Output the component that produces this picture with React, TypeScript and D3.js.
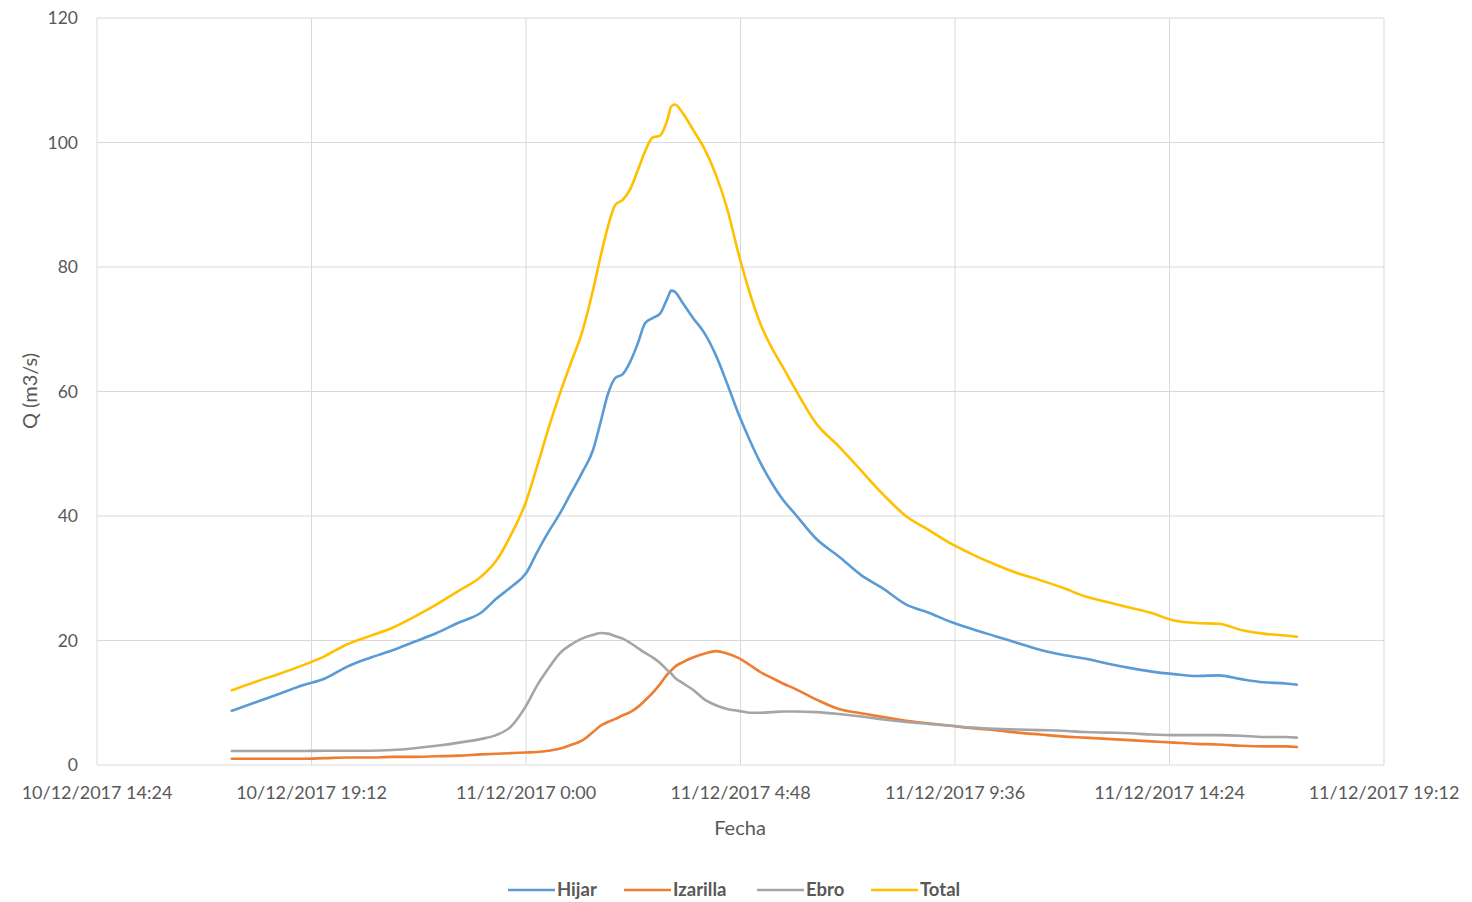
import React from "react";
import * as d3 from "d3";

const times: string[] = [
  "2017-12-10 17:25", "2017-12-10 18:00", "2017-12-10 18:30", "2017-12-10 19:00", "2017-12-10 19:30",
  "2017-12-10 20:00", "2017-12-10 20:30", "2017-12-10 21:00", "2017-12-10 21:30", "2017-12-10 22:00",
  "2017-12-10 22:30", "2017-12-10 23:00", "2017-12-10 23:20", "2017-12-10 23:40", "2017-12-11 00:00",
  "2017-12-11 00:15", "2017-12-11 00:30", "2017-12-11 00:45", "2017-12-11 01:00", "2017-12-11 01:15",
  "2017-12-11 01:30", "2017-12-11 01:40", "2017-12-11 01:50", "2017-12-11 02:00", "2017-12-11 02:10",
  "2017-12-11 02:20", "2017-12-11 02:30", "2017-12-11 02:40", "2017-12-11 02:50", "2017-12-11 03:00",
  "2017-12-11 03:10", "2017-12-11 03:15", "2017-12-11 03:20", "2017-12-11 03:30", "2017-12-11 03:45",
  "2017-12-11 04:00", "2017-12-11 04:15", "2017-12-11 04:30", "2017-12-11 04:45", "2017-12-11 05:00",
  "2017-12-11 05:15", "2017-12-11 05:30", "2017-12-11 05:45", "2017-12-11 06:00", "2017-12-11 06:30",
  "2017-12-11 07:00", "2017-12-11 07:30", "2017-12-11 08:00", "2017-12-11 08:30", "2017-12-11 09:00",
  "2017-12-11 09:30", "2017-12-11 10:00", "2017-12-11 10:30", "2017-12-11 11:00", "2017-12-11 11:30",
  "2017-12-11 12:00", "2017-12-11 12:30", "2017-12-11 13:00", "2017-12-11 13:30", "2017-12-11 14:00",
  "2017-12-11 14:30", "2017-12-11 15:00", "2017-12-11 15:30", "2017-12-11 16:00", "2017-12-11 16:30",
  "2017-12-11 17:00", "2017-12-11 17:15",
];

const hijar: number[] = [
  8.7, 10.2, 11.5, 12.8, 13.9, 15.8, 17.2, 18.4, 19.8, 21.2,
  22.9, 24.5, 26.7, 28.6, 30.8, 34.2, 37.4, 40.3, 43.6, 46.9,
  50.6, 55.0, 59.6, 62.2, 62.8, 64.8, 67.7, 71.0, 71.8, 72.5,
  75.0, 76.2, 76.0, 74.3, 71.7, 69.3, 65.8, 61.3, 56.5, 52.3,
  48.5, 45.3, 42.6, 40.5, 36.3, 33.5, 30.5, 28.3, 25.8, 24.5,
  23.0, 21.8, 20.7, 19.6, 18.5, 17.7, 17.1, 16.3, 15.6, 15.0,
  14.6, 14.3, 14.4, 13.8, 13.3, 13.1, 12.9,
];

const izarilla: number[] = [
  1.0, 1.0, 1.0, 1.0, 1.1, 1.2, 1.2, 1.3, 1.3, 1.4,
  1.5, 1.7, 1.8, 1.9, 2.0, 2.1, 2.3, 2.6, 3.2, 3.9,
  5.3, 6.3, 6.9, 7.4, 8.0, 8.5, 9.3, 10.4, 11.6, 13.0,
  14.6, 15.2, 15.8, 16.5, 17.3, 17.9, 18.3, 17.9, 17.2, 16.1,
  14.9, 14.0, 13.1, 12.3, 10.5, 9.0, 8.3, 7.7, 7.1, 6.7,
  6.3, 5.9, 5.6, 5.2, 4.9, 4.6, 4.4, 4.2, 4.0, 3.8,
  3.6, 3.4, 3.3, 3.1, 3.0, 3.0, 2.9,
];

const ebro: number[] = [
  2.25, 2.25, 2.25, 2.25, 2.3, 2.3, 2.3, 2.4, 2.7, 3.1,
  3.6, 4.2, 4.8, 6.2, 9.5, 12.8, 15.5, 17.9, 19.3, 20.3,
  20.9, 21.2, 21.1, 20.7, 20.3, 19.6, 18.8, 18.0, 17.3, 16.4,
  15.2, 14.7, 14.0, 13.2, 12.0, 10.5, 9.6, 9.0, 8.7, 8.4,
  8.4, 8.5, 8.6, 8.6, 8.5, 8.2, 7.8, 7.3, 6.9, 6.6,
  6.3, 6.0, 5.8, 5.7, 5.6, 5.5, 5.3, 5.2, 5.1, 4.9,
  4.8, 4.8, 4.8, 4.7, 4.5, 4.5, 4.4,
];

const total: number[] = [
  12.0, 13.5, 14.7, 16.0, 17.5, 19.4, 20.7, 22.0, 23.8, 25.8,
  28.0, 30.3, 32.8, 37.0, 42.3, 48.0, 54.0, 59.5, 64.5, 69.4,
  76.3, 81.6, 86.5, 90.0, 90.8, 92.5, 95.5, 98.6, 100.8, 101.1,
  103.7, 105.8, 106.1, 104.8, 101.9, 98.9, 94.8, 89.4, 82.3, 76.0,
  70.8, 67.0, 63.9, 60.7, 54.8, 51.2, 47.3, 43.4, 40.0, 37.8,
  35.6, 33.8, 32.2, 30.8, 29.7, 28.5, 27.1, 26.2, 25.3, 24.4,
  23.2, 22.8, 22.7, 21.7, 21.1, 20.8, 20.6,
];

const xTickLabels: string[] = [
  "2017-12-10 14:24", "2017-12-10 19:12", "2017-12-11 00:00", "2017-12-11 04:48",
  "2017-12-11 09:36", "2017-12-11 14:24", "2017-12-11 19:12",
];
const yTicks: number[] = [0, 20, 40, 60, 80, 100, 120];

const seriesNames = ["Hijar", "Izarilla", "Ebro", "Total"];
const seriesColors = ["#5B9BD5", "#ED7D31", "#A5A5A5", "#FFC000"];
const seriesValues = [hijar, izarilla, ebro, total];

const parse = d3.timeParse("%Y-%m-%d %H:%M");
const pad = (n: number) => (n < 10 ? "0" + n : "" + n);
const fmt = (d: Date) =>
  `${d.getDate()}/${d.getMonth() + 1}/${d.getFullYear()} ${d.getHours()}:${pad(d.getMinutes())}`;

export default function App() {
  const W = 1472, H = 902;
  const left = 97, right = 1384, top = 18, bottom = 765;
  const tickDates = xTickLabels.map((s) => parse(s) as Date);
  const x = d3.scaleTime().domain([tickDates[0], tickDates[tickDates.length - 1]]).range([left, right]);
  const y = d3.scaleLinear().domain([0, 120]).range([bottom, top]);
  const dates = times.map((s) => parse(s) as Date);
  const line = d3
    .line<number>()
    .x((_, i) => x(dates[i]))
    .y((v) => y(v))
    .curve(d3.curveMonotoneX);

  const font = "Lato, 'Open Sans', sans-serif";
  const textColor = "#595959";
  const grid = "#D9D9D9";

  const legendItems = [
    { lx: 508, tx: 557 },
    { lx: 624, tx: 673 },
    { lx: 757, tx: 806 },
    { lx: 871, tx: 920 },
  ];

  return (
    <svg
      width={W}
      height={H}
      style={{ position: "absolute", left: 0, top: 0, background: "#fff" }}
      fontFamily={font}
    >
      <rect x={0} y={0} width={W} height={H} fill="#fff" />
      {yTicks.map((t) => (
        <line key={"gy" + t} x1={left} x2={right} y1={y(t)} y2={y(t)} stroke={grid} strokeWidth={1} />
      ))}
      {tickDates.map((d, i) => (
        <line key={"gx" + i} x1={x(d)} x2={x(d)} y1={top} y2={bottom} stroke={grid} strokeWidth={1} />
      ))}
      {yTicks.map((t) => (
        <text key={"ty" + t} x={left - 19} y={y(t)} dy="0.35em" textAnchor="end" fontSize={17.5} fill={textColor}>
          {t}
        </text>
      ))}
      {tickDates.map((d, i) => (
        <text key={"tx" + i} x={x(d)} y={bottom + 28} dy="0.35em" textAnchor="middle" fontSize={18} fill={textColor}>
          {fmt(d)}
        </text>
      ))}
      <text x={740} y={828} dy="0.35em" textAnchor="middle" fontSize={20} fill={textColor}>
        Fecha
      </text>
      <text
        transform={`translate(30,391) rotate(-90)`}
        dy="0.35em"
        textAnchor="middle"
        fontSize={20}
        fill={textColor}
      >
        Q (m3/s)
      </text>
      {seriesValues.map((vals, k) => (
        <path
          key={"s" + k}
          d={line(vals) || ""}
          fill="none"
          stroke={seriesColors[k]}
          strokeWidth={2.6}
          strokeLinejoin="round"
          strokeLinecap="round"
        />
      ))}
      {seriesNames.map((name, k) => (
        <g key={"lg" + k}>
          <line
            x1={legendItems[k].lx}
            x2={legendItems[k].lx + 47}
            y1={890}
            y2={890}
            stroke={seriesColors[k]}
            strokeWidth={2.6}
          />
          <text x={legendItems[k].tx} y={890} dy="0.35em" fontSize={18.5} fontWeight="bold" fill={textColor}>
            {name}
          </text>
        </g>
      ))}
    </svg>
  );
}
